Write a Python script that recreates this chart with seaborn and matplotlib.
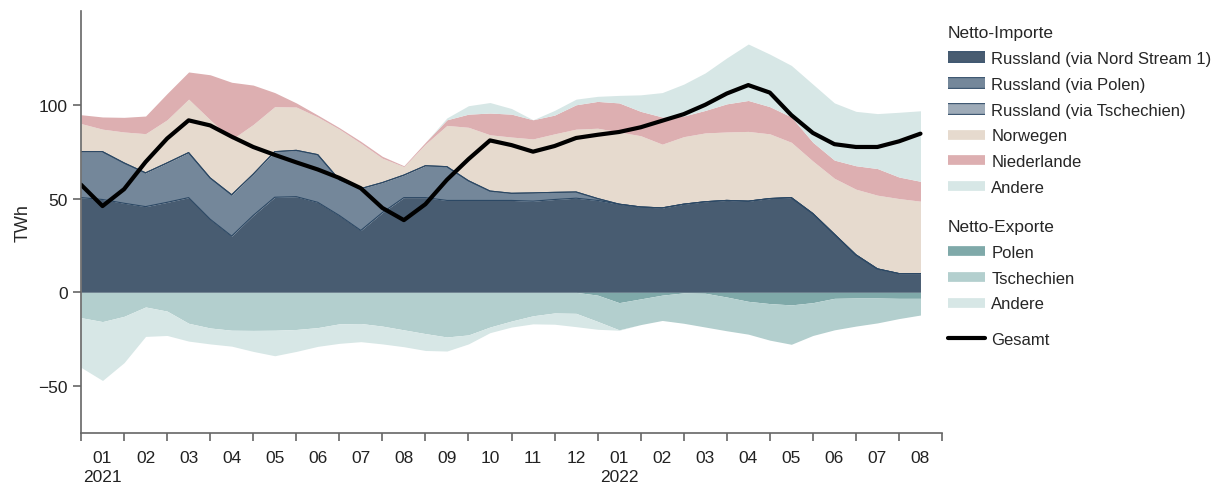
import numpy as np
import matplotlib
matplotlib.use("Agg")
import matplotlib.pyplot as plt
import matplotlib.patheffects as pe
from matplotlib.lines import Line2D
import seaborn as sns

# x positions in months since 2021-01-01 (readings every half month)
t = np.arange(0, 20, 0.5)
month_labels = ['01', '02', '03', '04', '05', '06', '07', '08', '09', '10', '11', '12',
                '01', '02', '03', '04', '05', '06', '07', '08']

# Netto-Importe (TWh)
nord_stream = [50.5, 49.5, 47.5, 45.7, 48, 50.5, 39, 30, 41, 50.7, 51, 48, 41, 33, 42.5, 50.5, 50.5, 49, 49, 49,
               49, 48.6, 49.5, 50.2, 49, 47, 45.5, 45, 47, 48.3, 49, 48.6, 50, 50.5, 42, 31, 20, 12.5, 10, 10]
via_polen = [24.5, 25.5, 21.5, 18, 21, 24, 22, 22, 22, 24.3, 24.7, 25.4, 19, 22.3, 16, 12, 17, 18, 10.5, 5,
             3.8, 4.4, 3.8, 3.3, 1, 0, 0, 0, 0, 0, 0, 0, 0, 0, 0, 0, 0, 0, 0, 0]
via_tschechien = [0, 0, 0, 0, 0, 0, 0, 0, 0, 0, 0, 0, 0, 0, 0, 0, 0, 0, 0, 0,
                  0, 0, 0, 0, 0, 0, 0, 0, 0, 0, 0, 0, 0, 0, 0, 0, 0, 0, 0, 0]
norwegen = [15, 12, 16.5, 20.9, 23, 28.5, 31, 29.5, 26.5, 24, 23.1, 20.1, 27, 24.2, 13, 4.5, 11.5, 22, 28.5, 30,
            30, 28.8, 31.2, 33.5, 37.5, 38.5, 38, 34, 36, 36.7, 36.5, 37.2, 34.5, 29.5, 28, 29.8, 35, 39.3, 40, 38.6]
niederlande = [4.7, 6.5, 7.8, 9.4, 14, 14.5, 24, 30.5, 21, 7.5, 2.2, 1, 0.8, 1, 1, 0.5, 1, 3, 7, 11.6,
               12.2, 10.2, 10, 13, 14.3, 15.5, 13, 14.5, 11, 12, 15, 16.5, 14.5, 13.5, 10, 9.7, 12.5, 14.2, 11.5, 10.6]
andere_imp = [0, 0, 0, 0, 0, 0, 0, 0, 0, 0, 0, 0, 0, 0, 0, 0, 0, 1, 4.5, 5.6,
              3, 0, 2.5, 3, 2.7, 4, 8.8, 13, 17, 20, 24.5, 30.1, 28, 27.5, 31, 30.5, 29, 29.3, 34.5, 37.6]

# Netto-Exporte (TWh, drawn below zero)
polen_exp = [0, 0, 0, 0, 0, 0, 0, 0, 0, 0, 0, 0, 0, 0, 0, 0, 0, 0, 0, 0,
             0, 0, 0, 0, 1.5, 5.5, 3.5, 1.5, 0.3, 0.5, 2.5, 4.8, 6, 6.7, 5.5, 3.2, 3, 3, 3.2, 3.2]
tschechien_exp = [13.5, 15.6, 12.8, 7.8, 10, 16.5, 19, 20.2, 20.3, 20.2, 19.8, 18.8, 16.8, 16.6, 18, 20, 22, 23.8, 22.7, 18.5,
                  15.3, 12.5, 11, 11.2, 14, 14.5, 13.7, 13.5, 16.2, 18, 18, 17.5, 19.5, 21, 17.5, 16.8, 15, 13.3, 10.8, 8.9]
andere_exp = [26.5, 31.4, 24.7, 15.7, 13, 9.5, 8.5, 8.5, 11.2, 13.6, 11.7, 10, 10.4, 9.7, 9.5, 9, 9, 7.5, 4.8, 3,
              3.2, 4.3, 6, 7.1, 4.2, 0.2, 0, 0, 0, 0, 0, 0, 0, 0, 0, 0, 0, 0, 0, 0]

# Gesamt
gesamt = [57.4, 46, 55, 69.5, 82, 91.7, 89, 83, 77.5, 73.3, 69.3, 65.5, 61, 55.5, 45, 38.5, 47, 60, 71, 81,
          78.5, 75, 78, 82.3, 84, 85.5, 88, 91.5, 95, 100, 106, 110.5, 106.5, 94.5, 85, 79, 77.5, 77.5, 80.5, 84.6]

imp_labels = ['Russland (via Nord Stream 1)', 'Russland (via Polen)', 'Russland (via Tschechien)',
              'Norwegen', 'Niederlande', 'Andere']
imp_colors = ['#485c71', '#74879a', '#9eabb8', '#e6dace', '#ddafb1', '#d7e7e6']
exp_labels = ['Polen', 'Tschechien', 'Andere']
exp_colors = ['#7fa9a9', '#b3cfce', '#d7e7e6']
edge = '#2c4864'

sns.set_theme(style="ticks")
plt.rcParams['font.family'] = ['Liberation Sans', 'DejaVu Sans']

fig = plt.figure(figsize=(12.23, 4.85), dpi=100)
ax = fig.add_axes([81 / 1223, 1 - 434 / 485, (942 - 81) / 1223, (434 - 12) / 485])

imports = [nord_stream, via_polen, via_tschechien, norwegen, niederlande, andere_imp]
ax.stackplot(t, *imports, colors=imp_colors, linewidth=0)
ax.stackplot(t, *[-np.array(s) for s in [polen_exp, tschechien_exp, andere_exp]],
             colors=exp_colors, linewidth=0)

# thin outlines of the Russian layers
cum = np.cumsum(np.array(imports[:3]), axis=0)
for row in cum:
    ax.plot(t, row, color=edge, lw=0.8)

sns.lineplot(x=t, y=gesamt, color='black', lw=3, ax=ax)

ax.set_xlim(0, 20)
ax.set_ylim(-75, 150)
ax.set_yticks([-50, 0, 50, 100])
ax.set_ylabel('TWh', fontsize=13, labelpad=5)
ax.set_xticks(np.arange(0, 21))
ax.set_xticklabels([])
ax.set_xticks(np.arange(0.5, 20, 1), minor=True)
ax.set_xticklabels(month_labels, minor=True)
ax.tick_params(axis='x', which='minor', length=0, pad=12, labelsize=12.5, colors='#222222')
ax.tick_params(axis='x', which='major', length=6, width=1.2, color='#666666')
ax.tick_params(axis='y', length=6, width=1.2, color='#666666', labelsize=12.5, labelcolor='#222222')
for s in ['top', 'right']:
    ax.spines[s].set_visible(False)
for s in ['left', 'bottom']:
    ax.spines[s].set_color('#666666')
    ax.spines[s].set_linewidth(1.2)

tr = ax.get_xaxis_transform()
for xpos, yr in [(0.5, '2021'), (12.5, '2022')]:
    ax.text(xpos, -(477 - 434) / 422, yr, transform=tr, ha='center', va='center',
            fontsize=12.5, color='#222222')


def bar_handle(c, outline=False):
    h = Line2D([0], [0], color=c, lw=7, solid_capstyle='butt')
    if outline:
        h.set_path_effects([pe.Stroke(linewidth=8.5, foreground=edge), pe.Normal()])
    return h


leg_kw = dict(loc='upper left', frameon=False, fontsize=12, title_fontsize=12.5,
              alignment='left', handlelength=2.2, handletextpad=0.4, labelspacing=0.65,
              borderaxespad=0, borderpad=0)
h_imp = [bar_handle(c, i < 3) for i, c in enumerate(imp_colors)]
leg1 = fig.legend(h_imp, imp_labels, title='Netto-Importe',
                  bbox_to_anchor=(948 / 1223, 1 - 26 / 485), **leg_kw)
h_exp = [bar_handle(c) for c in exp_colors]
leg2 = fig.legend(h_exp, exp_labels, title='Netto-Exporte',
                  bbox_to_anchor=(948 / 1223, 1 - 220 / 485), **leg_kw)
leg3 = fig.legend([Line2D([0], [0], color='black', lw=3)], ['Gesamt'],
                  bbox_to_anchor=(948 / 1223, 1 - 333 / 485), **leg_kw)

fig.savefig('out.png', dpi=100)
